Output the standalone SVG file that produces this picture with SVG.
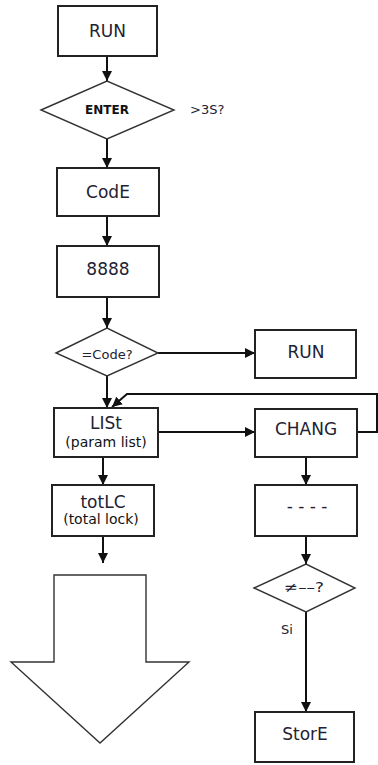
<svg xmlns="http://www.w3.org/2000/svg" width="378" height="765" viewBox="0 0 378 765">
  <style>
    .box { fill: #fff; stroke: #222; stroke-width: 2; }
    .dia { fill: #fff; stroke: #333; stroke-width: 1.4; }
    .big { fill: #fff; stroke: #333; stroke-width: 1.4; }
    .conn { fill: none; stroke: #111; stroke-width: 2; }
    text { font-family: "DejaVu Sans", "Liberation Sans", sans-serif; fill: #222233; text-anchor: middle; }
    .lbl { font-size: 17px; }
    .sub { font-size: 14px; fill: #111; }
    .sm { font-size: 13px; }
    .bold { font-size: 12px; font-weight: bold; fill: #111; }
  </style>
  <defs>
    <marker id="ah" markerUnits="userSpaceOnUse" markerWidth="10" markerHeight="10" refX="10" refY="5" viewBox="0 0 10 10" orient="auto">
      <path d="M0,0 L10,5 L0,10 Z" fill="#111"/>
    </marker>
  </defs>

  <g id="connectors">
    <line class="conn" x1="107" y1="56" x2="107" y2="81" marker-end="url(#ah)"/>
    <line class="conn" x1="107" y1="139" x2="107" y2="168" marker-end="url(#ah)"/>
    <line class="conn" x1="107" y1="216" x2="107" y2="246" marker-end="url(#ah)"/>
    <line class="conn" x1="107" y1="297" x2="107" y2="328" marker-end="url(#ah)"/>
    <line class="conn" x1="158" y1="353" x2="255" y2="353" marker-end="url(#ah)"/>
    <line class="conn" x1="107" y1="376" x2="107" y2="408" marker-end="url(#ah)"/>
    <path class="conn" d="M357,432 H377 V394 H127 L112,407" marker-end="url(#ah)"/>
    <line class="conn" x1="158" y1="432" x2="255" y2="432" marker-end="url(#ah)"/>
    <line class="conn" x1="103" y1="457" x2="103" y2="485" marker-end="url(#ah)"/>
    <line class="conn" x1="306" y1="457" x2="306" y2="485" marker-end="url(#ah)"/>
    <line class="conn" x1="103" y1="536" x2="103" y2="563" marker-end="url(#ah)"/>
    <line class="conn" x1="306" y1="536" x2="306" y2="564" marker-end="url(#ah)"/>
    <line class="conn" x1="306" y1="612" x2="306" y2="712" marker-end="url(#ah)"/>
    <text class="sm" x="287" y="634">Si</text>
  </g>

  <g id="run1">
    <rect class="box" x="58" y="6" width="99" height="50"/>
    <text class="lbl" x="107.5" y="37">RUN</text>
  </g>
  <g id="enter">
    <polygon class="dia" points="41,110 107,81 174,110 107,139"/>
    <text class="bold" x="107" y="114">ENTER</text>
    <text class="sm" x="190" y="114" style="text-anchor:start">&gt;3S?</text>
  </g>
  <g id="code">
    <rect class="box" x="57" y="168" width="102" height="48"/>
    <text class="lbl" x="108" y="198">CodE</text>
  </g>
  <g id="n8888">
    <rect class="box" x="57" y="246" width="102" height="51"/>
    <text class="lbl" x="108" y="275">8888</text>
  </g>
  <g id="eqcode">
    <polygon class="dia" points="56,353 107,328 158,353 107,376"/>
    <text class="sm" x="107" y="359">=Code?</text>
  </g>
  <g id="run2">
    <rect class="box" x="255" y="330" width="101" height="48"/>
    <text class="lbl" x="306" y="358">RUN</text>
  </g>
  <g id="list">
    <rect class="box" x="54" y="408" width="104" height="49"/>
    <text class="lbl" x="106" y="429">LISt</text>
    <text class="sub" x="106" y="447">(param list)</text>
  </g>
  <g id="chang">
    <rect class="box" x="255" y="409" width="102" height="48"/>
    <text class="lbl" x="306" y="435">CHANG</text>
  </g>
  <g id="totlc">
    <rect class="box" x="52" y="485" width="102" height="51"/>
    <text class="lbl" x="103" y="508">totLC</text>
    <text class="sub" x="101" y="524">(total lock)</text>
  </g>
  <g id="dashes">
    <rect class="box" x="255" y="485" width="102" height="51"/>
    <text class="lbl" x="307" y="512">- - - -</text>
  </g>
  <g id="neq">
    <polygon class="dia" points="254,588 306,564 355,588 306,612"/>
    <text class="sm" x="304" y="592" style="font-size:14px" textLength="40" lengthAdjust="spacingAndGlyphs">≠––?</text>
  </g>
  <g id="store">
    <rect class="box" x="255" y="712" width="99" height="50"/>
    <text class="lbl" x="305" y="740">StorE</text>
  </g>
  <g id="blockarrow">
    <path class="big" d="M54,575 H146 V662 H189 L100,743 L11,662 H54 Z"/>
  </g>
</svg>
